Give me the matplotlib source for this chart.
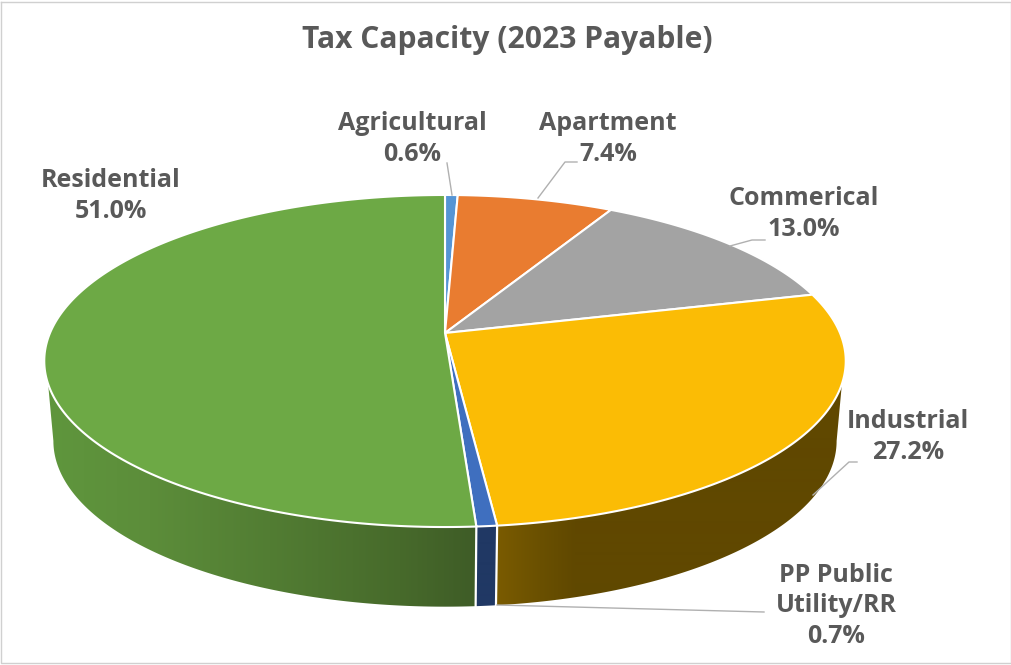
#!/usr/bin/env python3
import numpy as np
import matplotlib
matplotlib.use("Agg")
import matplotlib.pyplot as plt
from matplotlib.colors import to_rgb
from matplotlib.patches import Polygon

plt.rcParams['font.family'] = ['Open Sans', 'DejaVu Sans']

title = 'Tax Capacity (2023 Payable)'
categories = ['Agricultural', 'Apartment', 'Commerical', 'Industrial', 'PP Public\nUtility/RR', 'Residential']
shares = [0.6, 7.4, 13.0, 27.2, 0.7, 51.0]
top_colors = ['#5595D5', '#E97C30', '#A3A3A3', '#FBBC05', '#3F6FBF', '#6DA945']
# side wall shading by screen x: (x stops, colours)
side_colors = {3: ([497, 540, 575], ['#7A5B00', '#6A5000', '#604800']),
               4: ([470, 497], ['#203864', '#203864']),
               5: ([50, 150, 270, 400, 470], ['#5F963D', '#5C8D3A', '#527D33', '#476A2B', '#3F5D27'])}
label_pos = [(412, 139), (608, 139), (804, 214), (908, 437), (836, 606), (111, 196)]
leaders = [[(447, 163), (452, 195)],
           [(577, 162), (565, 162), (538, 198)],
           [(765, 240), (752, 240), (730, 246)],
           [(857, 462), (849, 462), (813, 495)],
           [(764, 612), (497, 605)],
           ]

CX, CY = 445, 333
RX, RY, K = 395, 161.3, 0.1687
BOT = dict(cy=413, rx=386, ry=161)
# wall ends: rim point where the wall starts and widest point of the lower disc
TOP_END = np.arccos(0.30)
BOT_END = np.arccos(K)


def project(theta, cy=CY, rx=RX, ry=RY):
    # theta runs clockwise from the back of the disc; K gives the perspective
    u, v = np.sin(theta), np.cos(theta)
    w = 1 + K * v
    return CX + rx * u / w, cy - ry * v / w


def lower_angle(theta):
    # matching point on the lower disc, same angle at the front, stretched at the ends
    d = theta - np.pi
    return np.pi + d * (1 + (BOT_END / TOP_END - 1) * (d / TOP_END) ** 2)


fig = plt.figure(figsize=(10.12, 6.65), dpi=100)
ax = fig.add_axes([0, 0, 1, 1])

edges = np.cumsum([0] + shares) / sum(shares) * 2 * np.pi

# side wall, only the part that faces the viewer
px = np.arange(1012)
for i, (stops, cols) in side_colors.items():
    a0, a1 = max(edges[i], np.pi - TOP_END), min(edges[i + 1], np.pi + TOP_END)
    ts = np.linspace(a0, a1, 300)
    xt, yt = project(ts)
    xb, yb = project(lower_angle(ts), **BOT)
    rgb = np.array([to_rgb(c) for c in cols])
    grad = np.stack([np.interp(px, stops, rgb[:, k]) for k in range(3)], axis=-1)[None, :, :]
    im = ax.imshow(grad, extent=(0, 1012, 665, 0), aspect='auto', interpolation='bilinear', zorder=2)
    wall = Polygon(np.c_[np.r_[xt, xb[::-1]], np.r_[yt, yb[::-1]]], closed=True, transform=ax.transData)
    im.set_clip_path(wall)

ax.set_xlim(0, 1012)
ax.set_ylim(665, 0)
ax.axis('off')

# slice borders on the side wall
for a in edges[4:6]:
    x0, y0 = project(a)
    x1, y1 = project(lower_angle(a), **BOT)
    ax.plot([x0, x1], [y0, y1], color='white', lw=1.6, zorder=3)

# top face
for i in range(len(shares)):
    ts = np.linspace(edges[i], edges[i + 1], 200)
    x, y = project(ts)
    ax.fill(np.r_[CX, x], np.r_[CY, y], facecolor=top_colors[i], edgecolor='white',
            lw=1.5, joinstyle='round', zorder=4)

for pts in leaders:
    xs, ys = zip(*pts)
    ax.plot(xs, ys, color='#B0B0B0', lw=1, zorder=5)

for name, val, (x, y) in zip(categories, shares, label_pos):
    ax.text(x, y, f'{name}\n{val:.1f}%', ha='center', va='center', fontsize=18,
            fontweight='bold', color='#595959', linespacing=1.27, zorder=6)

ax.text(507, 40, title, ha='center', va='center', fontsize=21.6, fontweight='bold', color='#595959')

# chart frame
ax.plot([1, 1, 1011, 1011, 1], [2, 663, 663, 2, 2], color='#D0D0D0', lw=1, zorder=1)

fig.savefig('out.png', dpi=100)
